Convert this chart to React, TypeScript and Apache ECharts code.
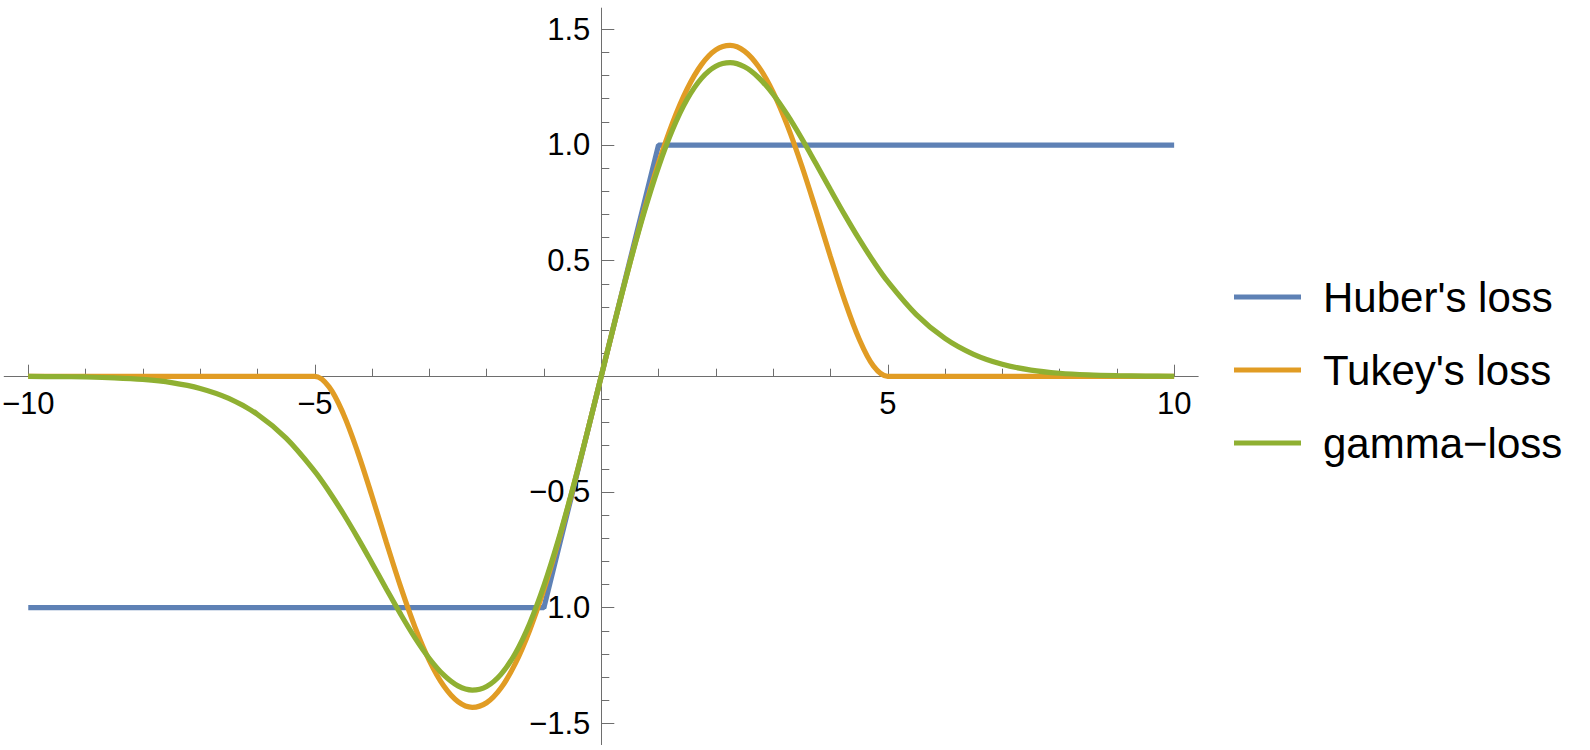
import React, { useEffect, useRef } from 'react';
import * as echarts from 'echarts';

// Sample positions (x) shared by Tukey's and gamma curves
const xs = [
  -10, -9.5, -9, -8.5, -8, -7.5, -7, -6.5, -6, -5.5,
  -5, -4.75, -4.5, -4.25, -4, -3.75, -3.5, -3.25, -3, -2.75, -2.5, -2.25, -2, -1.75, -1.5, -1.25, -1, -0.75, -0.5, -0.25,
  0,
  0.25, 0.5, 0.75, 1, 1.25, 1.5, 1.75, 2, 2.25, 2.5, 2.75, 3, 3.25, 3.5, 3.75, 4, 4.25, 4.5, 4.75, 5,
  5.5, 6, 6.5, 7, 7.5, 8, 8.5, 9, 9.5, 10,
];

const tukeyValues = [
  0, 0, 0, 0, 0, 0, 0, 0, 0, 0,
  0, -0.0452, -0.1625, -0.3273, -0.5184, -0.7178, -0.9104, -1.0839, -1.2288, -1.3379, -1.4063, -1.431, -1.4112, -1.3475, -1.2422, -1.0986, -0.9216, -0.7166, -0.4901, -0.2488,
  0,
  0.2488, 0.4901, 0.7166, 0.9216, 1.0986, 1.2422, 1.3475, 1.4112, 1.431, 1.4063, 1.3379, 1.2288, 1.0839, 0.9104, 0.7178, 0.5184, 0.3273, 0.1625, 0.0452, 0,
  0, 0, 0, 0, 0, 0, 0, 0, 0, 0,
];

const gammaValues = [
  -0.0005, -0.0011, -0.0027, -0.0062, -0.0133, -0.027, -0.0521, -0.0951, -0.1639, -0.2671,
  -0.4104, -0.4976, -0.594, -0.6981, -0.8076, -0.919, -1.0282, -1.1303, -1.2197, -1.2909, -1.3382, -1.3562, -1.3406, -1.2883, -1.1978, -1.0692, -0.9048, -0.709, -0.4877, -0.2484,
  0,
  0.2484, 0.4877, 0.709, 0.9048, 1.0692, 1.1978, 1.2883, 1.3406, 1.3562, 1.3382, 1.2909, 1.2197, 1.1303, 1.0282, 0.919, 0.8076, 0.6981, 0.594, 0.4976, 0.4104,
  0.2671, 0.1639, 0.0951, 0.0521, 0.027, 0.0133, 0.0062, 0.0027, 0.0011, 0.0005,
];

const huberX = [-10, -1, 1, 10];
const huberValues = [-1, -1, 1, 1];

const seriesNames = ["Huber's loss", "Tukey's loss", 'gamma\u2212loss'];
const seriesColors = ['#5E81B5', '#E19C24', '#8FB032'];

const xTickValues = { min: -10, max: 10, step: 5, minorSplit: 5 };
const yTickValues = { min: -1.5, max: 1.5, step: 0.5, minorSplit: 5 };

const FONT = "'Liberation Sans', Arial, Helvetica, sans-serif";
const AXIS_COLOR = '#6e6e6e';
const LINE_W = 5.2;
const TICK_FONT = 31;

const fmt = (v: number, d: number) =>
  Math.abs(v) < 1e-9 ? '' : v.toFixed(d).replace('-', '\u2212');

export default function App() {
  const ref = useRef<HTMLDivElement>(null);

  useEffect(() => {
    if (!ref.current) return;
    const chart = echarts.init(ref.current, undefined, { renderer: 'svg' });

    const pairs = (xv: number[], yv: number[]) => xv.map((x, i) => [x, yv[i]]);

    const hiddenAxis = (gridIndex: number, min: number, max: number) => ({
      gridIndex,
      type: 'value',
      show: false,
      min,
      max,
      splitLine: { show: false },
    });

    const option: any = {
      animation: false,
      backgroundColor: '#ffffff',
      textStyle: { fontFamily: FONT },
      grid: [
        // data grid (axis lines through origin)
        { left: 4.2, top: 8.1, width: 1194, height: 736.5, containLabel: false, outerBoundsMode: 'none' },
        // x tick/label grid: bottom edge on y = 0
        { left: 28.3, top: 0, width: 1146, height: 376.7, containLabel: false, outerBoundsMode: 'none' },
        // y tick/label grid: left edge on x = 0
        { left: 601.3, top: 29.3, width: 500, height: 694, containLabel: false, outerBoundsMode: 'none' },
      ],
      xAxis: [
        {
          gridIndex: 0,
          type: 'value',
          min: -10.42,
          max: 10.42,
          axisLine: { show: true, onZero: true, lineStyle: { color: AXIS_COLOR, width: 1 } },
          axisTick: { show: false },
          axisLabel: { show: false },
          splitLine: { show: false },
        },
        {
          gridIndex: 1,
          type: 'value',
          position: 'bottom',
          min: xTickValues.min,
          max: xTickValues.max,
          interval: xTickValues.step,
          axisLine: { show: false, onZero: false },
          axisTick: { show: true, inside: true, length: 12, lineStyle: { color: AXIS_COLOR, width: 1 } },
          minorTick: { show: true, splitNumber: xTickValues.minorSplit, length: 8, lineStyle: { color: AXIS_COLOR, width: 1 } },
          axisLabel: {
            show: true,
            margin: 11,
            fontSize: TICK_FONT,
            color: '#000',
            fontFamily: FONT,
            formatter: (v: number) => fmt(v, 0),
          },
          splitLine: { show: false },
          minorSplitLine: { show: false },
        },
        hiddenAxis(2, 0, 1),
      ],
      yAxis: [
        {
          gridIndex: 0,
          type: 'value',
          min: -1.592,
          max: 1.592,
          axisLine: { show: true, onZero: true, lineStyle: { color: AXIS_COLOR, width: 1 } },
          axisTick: { show: false },
          axisLabel: { show: false },
          splitLine: { show: false },
        },
        hiddenAxis(1, 0, 1),
        {
          gridIndex: 2,
          type: 'value',
          position: 'left',
          min: yTickValues.min,
          max: yTickValues.max,
          interval: yTickValues.step,
          axisLine: { show: false, onZero: false },
          axisTick: { show: true, inside: true, length: 13, lineStyle: { color: AXIS_COLOR, width: 1 } },
          minorTick: { show: true, splitNumber: yTickValues.minorSplit, length: 8, lineStyle: { color: AXIS_COLOR, width: 1 } },
          axisLabel: {
            show: true,
            margin: 11,
            fontSize: TICK_FONT,
            color: '#000',
            fontFamily: FONT,
            formatter: (v: number) => fmt(v, 1),
          },
          splitLine: { show: false },
          minorSplitLine: { show: false },
        },
      ],
      legend: {
        show: true,
        orient: 'vertical',
        left: 1234,
        top: 276,
        padding: 0,
        icon: 'rect',
        itemWidth: 67,
        itemHeight: 5,
        itemGap: 31,
        selectedMode: false,
        data: seriesNames,
        textStyle: {
          fontSize: 42,
          lineHeight: 42,
          color: '#000',
          fontFamily: FONT,
          padding: [0, 0, 0, 17],
        },
      },
      series: [
        {
          name: seriesNames[0],
          type: 'line',
          xAxisIndex: 0,
          yAxisIndex: 0,
          data: pairs(huberX, huberValues),
          showSymbol: false,
          symbol: 'none',
          color: seriesColors[0],
          lineStyle: { width: LINE_W, color: seriesColors[0] },
        },
        {
          name: seriesNames[1],
          type: 'line',
          xAxisIndex: 0,
          yAxisIndex: 0,
          data: pairs(xs, tukeyValues),
          smooth: 0.35,
          showSymbol: false,
          symbol: 'none',
          color: seriesColors[1],
          lineStyle: { width: LINE_W, color: seriesColors[1] },
        },
        {
          name: seriesNames[2],
          type: 'line',
          xAxisIndex: 0,
          yAxisIndex: 0,
          data: pairs(xs, gammaValues),
          smooth: 0.35,
          showSymbol: false,
          symbol: 'none',
          color: seriesColors[2],
          lineStyle: { width: LINE_W, color: seriesColors[2] },
        },
      ],
    };

    chart.setOption(option);
    return () => chart.dispose();
  }, []);

  return (
    <div
      ref={ref}
      style={{ position: 'absolute', left: 0, top: 0, width: 1590, height: 750, background: '#fff' }}
    />
  );
}
